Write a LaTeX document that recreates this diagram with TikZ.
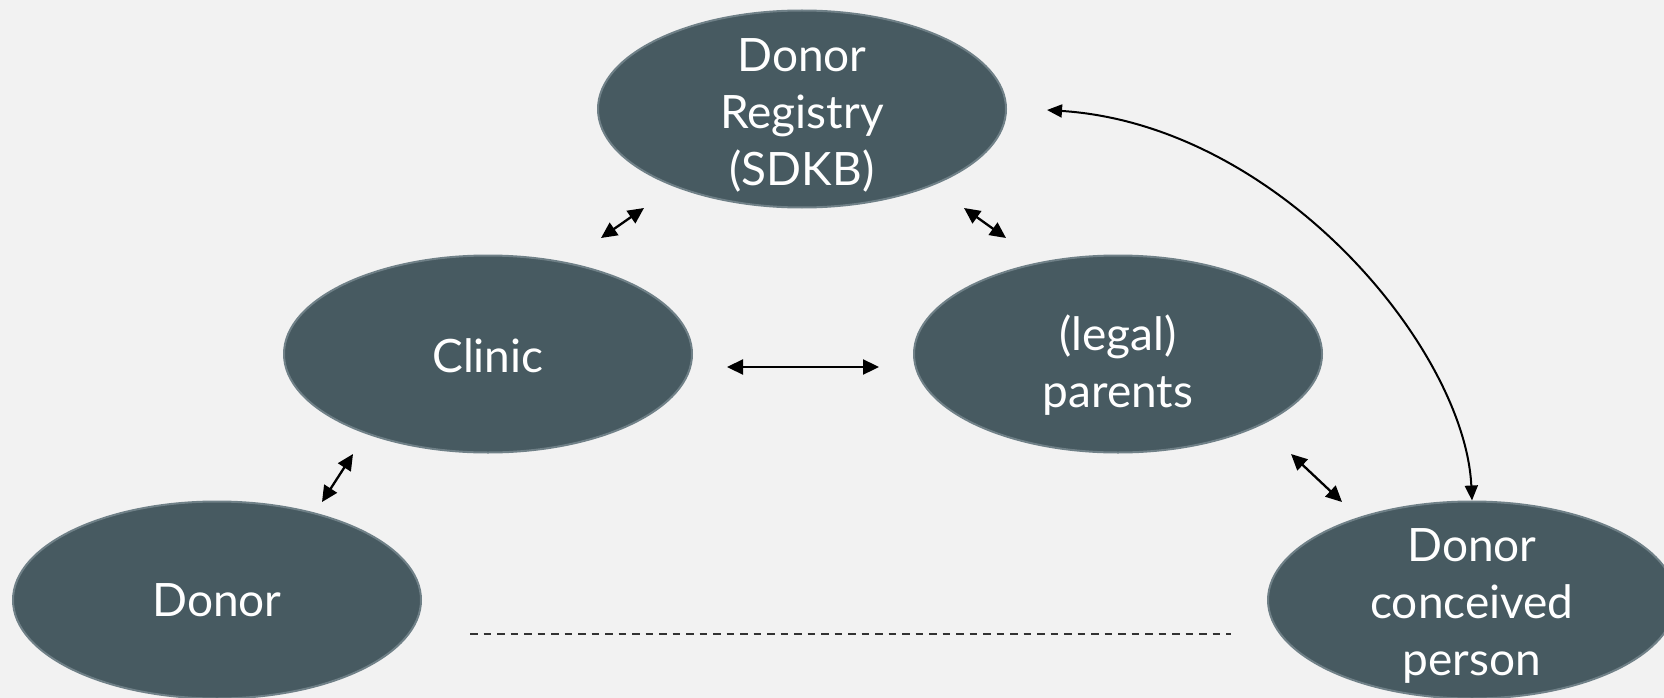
\documentclass[tikz,border=0pt]{standalone}
\usepackage{fontspec}
\setmainfont{Lato}
\usetikzlibrary{arrows.meta,shapes.geometric}
\definecolor{bg}{HTML}{F2F2F2}
\definecolor{blobfill}{HTML}{475A61}
\definecolor{blobline}{HTML}{6F8087}
\definecolor{dashc}{HTML}{333333}
\tikzset{
  blob/.style={ellipse, fill=blobfill, draw=blobline, line width=2pt,
    minimum width=408pt, minimum height=197pt, inner sep=0pt},
  lbl/.style={text=white, align=center, inner sep=0pt,
    font=\fontsize{46}{57}\selectfont},
  dbl/.style={line width=2.3pt, {Triangle[length=16pt,width=15pt]}-{Triangle[length=16pt,width=15pt]}},
  curv/.style={line width=2pt, {Triangle[length=15pt,width=13pt]}-{Triangle[length=15pt,width=13pt]}},
  dashln/.style={draw=dashc, line width=2pt, dash pattern=on 7.5pt off 6pt}
}
\begin{document}
\begin{tikzpicture}[x=1pt,y=-1pt]
\fill[bg] (0,0) rectangle (1664,698);
\useasboundingbox (0,0) rectangle (1664,698);
\clip (0,0) rectangle (1664,698);

\node[blob] (reg) at (802,109) {};
\node[lbl] (regt) at (802,115) {Donor\\Registry\\(SDKB)};
\node[blob] (cli) at (488,354) {};
\node[lbl] (clit) at (488,356) {Clinic};
\node[blob] (par) at (1118,354) {};
\node[lbl] (part) at (1118,365) {(legal)\\parents};
\node[blob] (don) at (217,600) {};
\node[lbl] (dont) at (217,600) {Donor};
\node[blob] (dcp) at (1472,600) {};
\node[lbl] (dcpt) at (1472,606) {Donor\\conceived\\person};

\coordinate (rc1) at (601,238);
\coordinate (rc2) at (644,208);
\coordinate (rp1) at (964,208);
\coordinate (rp2) at (1006,238);
\coordinate (cp1) at (727,367);
\coordinate (cp2) at (879,367);
\coordinate (cd1) at (322,502);
\coordinate (cd2) at (353,454);
\coordinate (pd1) at (1291,454);
\coordinate (pd2) at (1342,502);
\coordinate (rcs) at (1047,110);
\coordinate (ds1) at (470,634);
\coordinate (ds2) at (1231,634);

\draw[dbl] (rc1) -- (rc2);
\draw[dbl] (rp1) -- (rp2);
\draw[dbl] (cp1) -- (cp2);
\draw[dbl] (cd1) -- (cd2);
\draw[dbl] (pd1) -- (pd2);
\draw[curv] (rcs) .. controls (1280,125) and (1465,350) .. (dcp.north);
\draw[dashln] (ds1) -- (ds2);
\end{tikzpicture}
\end{document}
